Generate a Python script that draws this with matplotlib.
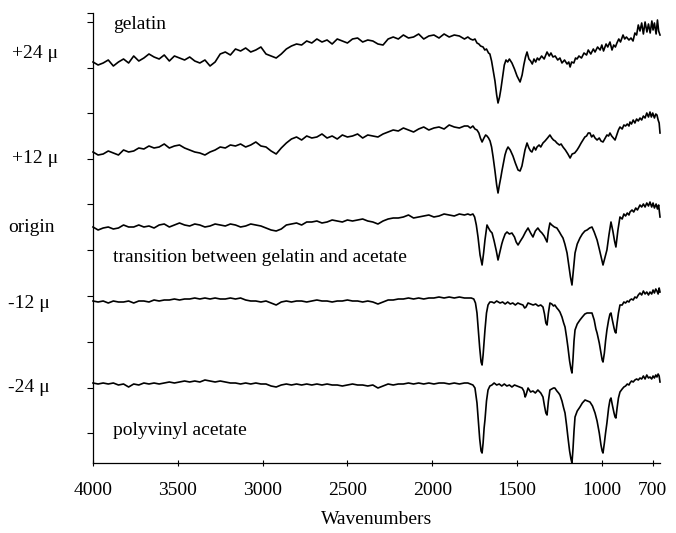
import matplotlib
matplotlib.use("Agg")
import matplotlib.pyplot as plt

plt.rcParams['font.family'] = ['Liberation Serif', 'DejaVu Serif']

# wavenumber grid for the flat (featureless) part of every trace
WN_FLAT = [4000, 3970, 3940, 3910, 3880, 3850, 3820, 3790, 3760, 3730,
           3700, 3670, 3640, 3610, 3580, 3550, 3520, 3490, 3460, 3430,
           3400, 3370, 3340, 3310, 3280, 3250, 3220, 3190, 3160, 3130,
           3100, 3070, 3040, 3010, 2980, 2950, 2920, 2890, 2860, 2830,
           2800, 2770, 2740, 2710, 2680, 2650, 2620, 2590, 2560, 2530,
           2500, 2470, 2440, 2410, 2380, 2350, 2320, 2290, 2260, 2230,
           2200, 2170, 2140, 2110, 2080, 2050, 2020, 1990, 1960, 1930,
           1900, 1870, 1840, 1810]

# +24 micron (gelatin)
gel24_flat = [401, 398, 400, 403, 397, 401, 404, 400, 407, 402,
              405, 409, 406, 404, 408, 402, 407, 405, 403, 406,
              402, 400, 403, 397, 401, 409, 411, 408, 414, 412,
              415, 411, 413, 416, 409, 407, 405, 409, 414, 417,
              419, 418, 422, 420, 424, 421, 423, 419, 424, 422,
              420, 424, 425, 421, 423, 422, 419, 418, 424, 426,
              424, 428, 425, 426, 429, 424, 427, 428, 425, 429,
              426, 428, 427, 424]
gel24_bands = [(1790, 426), (1775, 424), (1760, 423), (1748, 424), (1736, 420), (1725, 419),
               (1715, 417), (1700, 416), (1690, 413), (1680, 414), (1668, 410), (1660, 409),
               (1650, 402), (1640, 392), (1630, 382), (1620, 368), (1612, 360), (1603, 366),
               (1595, 374), (1585, 386), (1575, 398), (1565, 403), (1555, 401), (1545, 404),
               (1530, 400), (1515, 394), (1500, 387), (1482, 381), (1470, 388), (1460, 398),
               (1450, 406), (1441, 411), (1430, 404), (1420, 402), (1410, 399), (1400, 404),
               (1390, 401), (1380, 405), (1370, 403), (1355, 407), (1340, 404), (1323, 411),
               (1310, 407), (1300, 410), (1288, 406), (1275, 407), (1260, 403), (1247, 405),
               (1235, 400), (1220, 403), (1205, 399), (1195, 401), (1187, 396), (1178, 401),
               (1165, 400), (1155, 405), (1146, 404), (1135, 407), (1120, 405), (1105, 410),
               (1090, 408), (1080, 413), (1065, 409), (1050, 414), (1040, 411), (1025, 416),
               (1010, 413), (1000, 418), (990, 412), (975, 419), (965, 416), (952, 421),
               (940, 413), (930, 418), (920, 416), (911, 420), (900, 424), (890, 421),
               (875, 428), (865, 424), (855, 426), (840, 423), (828, 425), (816, 422),
               (805, 430), (795, 428), (785, 438), (775, 432), (765, 440), (755, 429),
               (745, 441), (734, 431), (725, 439), (715, 430), (705, 442), (698, 433),
               (690, 440), (680, 429), (672, 443), (665, 432), (657, 428)]

# +12 micron
gel12_flat = [311, 308, 309, 312, 310, 308, 313, 311, 312, 315,
              314, 317, 315, 316, 319, 315, 317, 318, 315, 313,
              311, 310, 308, 311, 313, 316, 315, 318, 317, 319,
              316, 318, 321, 317, 316, 312, 309, 315, 320, 324,
              326, 323, 327, 325, 326, 329, 325, 327, 324, 328,
              326, 327, 329, 325, 328, 327, 326, 329, 331, 333,
              332, 335, 333, 331, 334, 336, 333, 335, 336, 334,
              338, 336, 335, 337]
gel12_bands = [(1790, 337), (1775, 335), (1760, 337), (1748, 334), (1736, 333), (1725, 330),
               (1716, 325), (1706, 321), (1695, 325), (1685, 328), (1677, 327), (1668, 325),
               (1659, 322), (1650, 316), (1641, 306), (1630, 292), (1620, 278), (1612, 270),
               (1604, 278), (1595, 286), (1589, 292), (1580, 300), (1571, 308), (1562, 313),
               (1553, 316), (1540, 313), (1524, 307), (1510, 300), (1494, 293), (1482, 292),
               (1471, 297), (1462, 305), (1453, 313), (1441, 320), (1430, 315), (1420, 312),
               (1412, 311), (1400, 316), (1390, 313), (1382, 316), (1370, 318), (1360, 316),
               (1347, 320), (1335, 322), (1320, 325), (1306, 328), (1295, 325), (1285, 323),
               (1275, 322), (1265, 320), (1250, 318), (1240, 319), (1229, 316), (1215, 313),
               (1200, 309), (1187, 305), (1175, 309), (1160, 310), (1146, 313), (1135, 316),
               (1122, 320), (1111, 323), (1100, 326), (1090, 327), (1080, 330), (1070, 330),
               (1060, 326), (1050, 328), (1040, 325), (1028, 323), (1015, 325), (1005, 322),
               (993, 321), (980, 325), (970, 328), (960, 327), (952, 330), (942, 327),
               (932, 325), (922, 323), (912, 328), (902, 333), (893, 336), (880, 334),
               (870, 338), (860, 337), (850, 339), (840, 337), (834, 341), (825, 339),
               (815, 343), (805, 340), (795, 344), (785, 342), (775, 345), (765, 343),
               (755, 347), (745, 345), (735, 350), (725, 346), (716, 351), (708, 346),
               (700, 350), (690, 345), (682, 349), (675, 348), (668, 343), (662, 340),
               (657, 330)]

# origin (transition between gelatin and acetate)
origin_flat = [236, 233, 235, 236, 234, 235, 238, 236, 236, 238,
               236, 237, 235, 238, 239, 236, 238, 240, 238, 237,
               239, 238, 236, 237, 239, 238, 237, 239, 238, 236,
               237, 239, 238, 237, 235, 233, 232, 234, 238, 239,
               240, 238, 241, 241, 242, 240, 241, 243, 242, 241,
               243, 242, 243, 244, 242, 241, 239, 242, 244, 245,
               245, 246, 248, 245, 246, 247, 248, 246, 247, 249,
               248, 247, 249, 248]
origin_bands = [(1790, 249), (1775, 248), (1760, 249), (1750, 246), (1740, 238), (1730, 226),
                (1718, 208), (1706, 198), (1697, 210), (1689, 223), (1680, 234), (1677, 238),
                (1668, 235), (1658, 232), (1647, 230), (1635, 222), (1622, 212), (1612, 203),
                (1600, 212), (1590, 219), (1583, 223), (1570, 229), (1559, 231), (1545, 229),
                (1530, 230), (1515, 226), (1505, 221), (1494, 218), (1480, 222), (1465, 226),
                (1450, 231), (1435, 235), (1420, 230), (1406, 226), (1392, 232), (1377, 235),
                (1365, 232), (1353, 230), (1340, 227), (1323, 221), (1315, 232), (1306, 240),
                (1295, 238), (1280, 236), (1265, 235), (1250, 231), (1240, 228), (1229, 225),
                (1218, 219), (1205, 210), (1195, 198), (1185, 186), (1176, 178), (1168, 192),
                (1158, 210), (1145, 219), (1129, 225), (1115, 229), (1100, 232), (1087, 233),
                (1072, 235), (1058, 236), (1045, 231), (1028, 223), (1015, 214), (1003, 205),
                (993, 198), (982, 205), (970, 213), (958, 228), (946, 241), (935, 232),
                (925, 222), (917, 216), (905, 233), (893, 246), (880, 244), (870, 249),
                (860, 247), (850, 250), (840, 248), (834, 251), (822, 253), (812, 251),
                (800, 255), (790, 253), (775, 258), (765, 256), (755, 259), (745, 256),
                (735, 260), (725, 257), (716, 261), (706, 256), (698, 260), (690, 255),
                (680, 259), (672, 254), (665, 258), (657, 246)]

# -12 micron
pva12_flat = [162, 161, 162, 160, 162, 161, 161, 162, 160, 162,
              162, 161, 163, 162, 163, 163, 164, 163, 164, 164,
              165, 164, 165, 164, 165, 164, 164, 165, 164, 165,
              163, 162, 162, 161, 162, 160, 158, 161, 162, 161,
              162, 162, 161, 162, 163, 162, 162, 161, 162, 162,
              163, 162, 162, 161, 162, 161, 159, 161, 163, 163,
              164, 164, 165, 164, 165, 164, 165, 165, 166, 165,
              166, 165, 166, 165]
pva12_bands = [(1790, 165), (1770, 165), (1755, 164), (1745, 160), (1736, 150), (1728, 133),
               (1720, 115), (1712, 101), (1706, 98), (1700, 108), (1694, 122), (1689, 133),
               (1680, 150), (1671, 158), (1660, 161), (1648, 161), (1635, 160), (1620, 162),
               (1600, 160), (1585, 161), (1570, 159), (1555, 161), (1540, 159), (1525, 160),
               (1510, 158), (1495, 160), (1482, 159), (1465, 158), (1455, 155), (1447, 156),
               (1435, 160), (1420, 159), (1405, 158), (1390, 159), (1375, 157), (1360, 158),
               (1347, 156), (1338, 149), (1330, 140), (1323, 138), (1315, 150), (1306, 160),
               (1295, 159), (1285, 157), (1277, 158), (1265, 155), (1255, 153), (1247, 151),
               (1235, 146), (1225, 140), (1217, 136), (1208, 126), (1200, 116), (1190, 102),
               (1182, 94), (1176, 90), (1170, 104), (1164, 122), (1158, 133), (1145, 139),
               (1129, 143), (1115, 146), (1100, 149), (1087, 150), (1072, 150), (1058, 150),
               (1045, 143), (1035, 134), (1028, 130), (1015, 120), (1005, 110), (998, 103),
               (993, 101), (985, 110), (978, 122), (970, 133), (960, 143), (952, 149),
               (946, 150), (938, 143), (928, 135), (922, 131), (917, 130), (910, 140),
               (902, 150), (893, 158), (880, 158), (870, 161), (860, 160), (850, 162),
               (840, 161), (834, 163), (825, 164), (815, 163), (805, 166), (795, 165),
               (785, 168), (775, 170), (765, 168), (755, 172), (745, 169), (735, 171),
               (725, 168), (716, 171), (706, 169), (698, 173), (690, 170), (682, 174),
               (675, 172), (668, 169), (662, 175), (657, 171)]

# -24 micron (polyvinyl acetate)
pva24_flat = [80, 79, 80, 79, 80, 78, 79, 76, 79, 78,
              80, 79, 80, 79, 80, 81, 80, 81, 82, 81,
              82, 81, 83, 82, 81, 82, 81, 80, 80, 79,
              80, 79, 80, 79, 79, 77, 76, 78, 79, 78,
              79, 78, 79, 78, 79, 78, 79, 78, 78, 77,
              78, 79, 78, 78, 77, 78, 75, 77, 79, 78,
              79, 79, 80, 79, 80, 79, 80, 79, 80, 80,
              79, 80, 79, 80]
pva24_bands = [(1790, 80), (1775, 79), (1760, 78), (1748, 75), (1736, 60), (1728, 42),
               (1720, 24), (1712, 12), (1706, 10), (1700, 20), (1694, 35), (1689, 43),
               (1680, 62), (1671, 73), (1660, 77), (1648, 78), (1635, 80), (1620, 78),
               (1605, 79), (1590, 77), (1575, 79), (1560, 77), (1545, 78), (1530, 76),
               (1515, 78), (1500, 77), (1485, 76), (1470, 75), (1460, 72), (1452, 66),
               (1447, 68), (1435, 75), (1420, 71), (1406, 72), (1392, 70), (1377, 73),
               (1360, 70), (1347, 66), (1338, 57), (1330, 50), (1323, 48), (1315, 62),
               (1306, 73), (1295, 74), (1285, 75), (1277, 75), (1265, 72), (1255, 70),
               (1247, 68), (1235, 62), (1225, 55), (1217, 50), (1208, 38), (1200, 26),
               (1190, 12), (1182, 4), (1176, 0), (1170, 14), (1164, 32), (1158, 46),
               (1145, 52), (1129, 56), (1115, 60), (1099, 63), (1085, 62), (1070, 61),
               (1055, 57), (1040, 50), (1028, 42), (1015, 30), (1005, 18), (998, 12),
               (993, 10), (985, 20), (978, 30), (970, 40), (960, 55), (952, 63),
               (946, 65), (938, 58), (928, 50), (922, 46), (917, 45), (910, 55),
               (902, 65), (893, 71), (880, 74), (870, 76), (860, 77), (850, 79),
               (840, 78), (834, 80), (825, 82), (815, 81), (805, 83), (795, 84),
               (785, 83), (775, 85), (765, 84), (755, 87), (745, 84), (735, 88),
               (725, 85), (716, 86), (706, 84), (698, 87), (690, 85), (682, 88),
               (675, 86), (668, 89), (662, 87), (657, 81)]

traces = [(gel24_flat, gel24_bands), (gel12_flat, gel12_bands),
          (origin_flat, origin_bands), (pva12_flat, pva12_bands),
          (pva24_flat, pva24_bands)]

W, H = 676, 533
fig = plt.figure(figsize=(W / 100, H / 100), dpi=100)
ax = fig.add_axes([93 / W, 1 - 463 / H, (660 - 93) / W, (463 - 13) / H])

for flat, bands in traces:
    wn = WN_FLAT + [b[0] for b in bands]
    y = flat + [b[1] for b in bands]
    ax.plot(wn, y, color='black', lw=1.2, clip_on=False)

ax.set_xlim(4000, 657)
ax.set_ylim(0, 450)
ax.set_xticks([4000, 3500, 3000, 2500, 2000, 1500, 1000, 700])
ax.set_yticks([30, 75, 121, 167, 213, 259, 304, 350, 395, 441, 450])
ax.set_yticklabels([])
ax.tick_params(axis='x', direction='inout', length=5, width=0.8, pad=11, labelsize=14)
ax.tick_params(axis='y', direction='out', length=4, width=0.8)
for side in ['top', 'right']:
    ax.spines[side].set_visible(False)
for side in ['left', 'bottom']:
    ax.spines[side].set_linewidth(0.9)
ax.set_xlabel('Wavenumbers', fontsize=14, labelpad=9)

# trace labels
side_labels = [('+24 μ', 12, 58), ('+12 μ', 12, 163), ('origin', 8, 232),
               ('-12 μ', 8, 308), ('-24 μ', 8, 392)]
for txt, px, py in side_labels:
    fig.text(px / W, 1 - py / H, txt, fontsize=14, va='baseline', ha='left')

inner_labels = [('gelatin', 113, 29),
                ('transition between gelatin and acetate', 113, 262),
                ('polyvinyl acetate', 113, 435)]
for txt, px, py in inner_labels:
    fig.text(px / W, 1 - py / H, txt, fontsize=14, va='baseline', ha='left')

fig.savefig('out.png', dpi=100)
